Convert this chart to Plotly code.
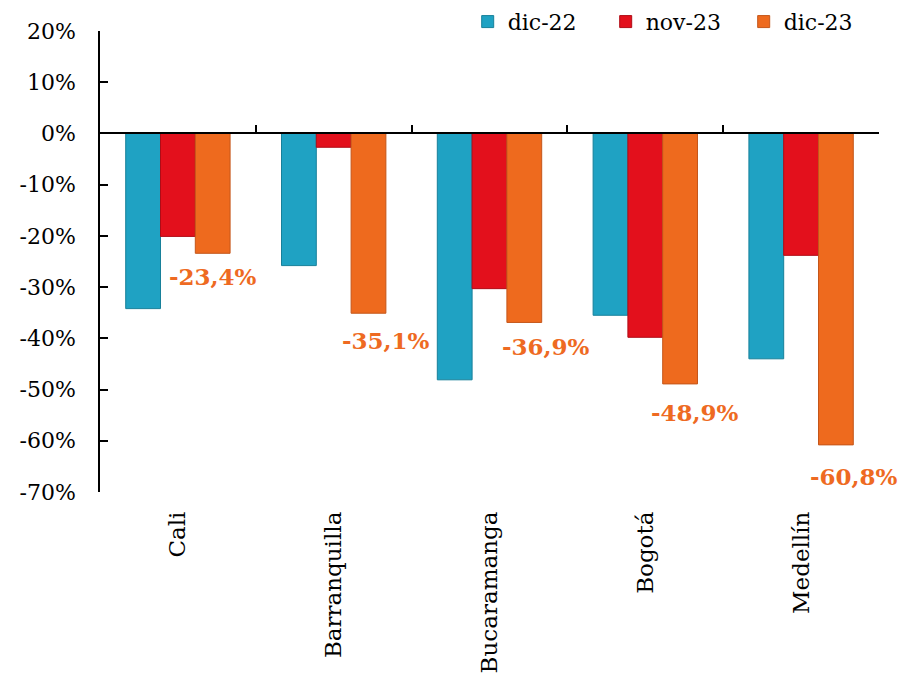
import plotly.graph_objects as go

cities = ["Cali", "Barranquilla", "Bucaramanga", "Bogotá", "Medellín"]
series_names = ["dic-22", "nov-23", "dic-23"]
dic22 = [-34.2, -25.8, -48.1, -35.5, -44.0]
nov23 = [-20.1, -2.7, -30.3, -39.8, -23.8]
dic23 = [-23.4, -35.1, -36.9, -48.9, -60.8]
dic23_labels = ["-23,4%", "-35,1%", "-36,9%", "-48,9%", "-60,8%"]
y_ticks = [20, 10, 0, -10, -20, -30, -40, -50, -60, -70]
y_tick_text = [f"{v}%" for v in y_ticks]

# label nudges (style only, pixels)
label_dx = [0, 18, 22, 15, 18]
label_dy = [-14, -18, -15, -19, -22]

colors = ["#1FA2C3", "#E3101C", "#EE6A1E"]
edge_colors = ["#17809A", "#B00C16", "#C4561A"]
label_color = "#EE6A22"
FONT = "DejaVu Serif"
PLOT_W = 779
BAR_PX = PLOT_W / 5 * 0.67 / 3

fig = go.Figure()
for name, vals, col, ecol in zip(series_names, [dic22, nov23, dic23], colors, edge_colors):
    fig.add_trace(go.Bar(x=cities, y=vals, name=name,
                         marker=dict(color=col, line=dict(width=1, color=ecol)),
                         xaxis="x", yaxis="y"))

# invisible trace for zero-line axis
fig.add_trace(go.Scatter(x=cities, y=[0]*len(cities), xaxis="x2", yaxis="y",
                         mode="markers", marker=dict(opacity=0), showlegend=False, hoverinfo="skip"))

for c, v, t, dx, dy in zip(cities, dic23, dic23_labels, label_dx, label_dy):
    fig.add_annotation(x=c, y=v, xref="x", yref="y", text=t, showarrow=False,
                       xanchor="center", yanchor="top", xshift=BAR_PX + dx, yshift=dy + 6,
                       font=dict(family=FONT, size=23, color=label_color, weight="bold"))

fig.update_layout(
    width=900, height=666,
    margin=dict(l=92, r=29, t=23, b=182, autoexpand=False),
    paper_bgcolor="white", plot_bgcolor="white",
    barmode="group", bargap=0.33, bargroupgap=0,
    font=dict(family=FONT, size=22, color="black"),
    showlegend=True,
    legend=dict(orientation="h", x=0.472, xanchor="left", y=1.02, yanchor="middle",
                font=dict(family=FONT, size=22), itemwidth=30, entrywidth=93,
                bgcolor="rgba(0,0,0,0)"),
    xaxis=dict(type="category", categoryorder="array", categoryarray=cities,
               range=[-0.5, len(cities) - 0.5], autorange=False,
               showline=False, ticks="", tickangle=-90, ticklabelstandoff=14,
               tickfont=dict(family=FONT, size=23), showgrid=False, zeroline=False,
               automargin=False),
    xaxis2=dict(type="category", categoryorder="array", categoryarray=cities,
                overlaying="x", matches="x", anchor="free", position=70/90,
                showline=True, linecolor="black", linewidth=1.5,
                ticks="inside", tickson="boundaries", ticklen=8, tickcolor="black", tickwidth=1.5,
                showticklabels=False, showgrid=False, zeroline=False),
    yaxis=dict(range=[-70, 20], autorange=False, tickvals=y_ticks, ticktext=y_tick_text,
               showline=True, linecolor="black", linewidth=1.5,
               ticks="inside", ticklen=8, tickcolor="black", tickwidth=1.5,
               ticklabelstandoff=18, automargin=False,
               showgrid=False, zeroline=False, tickfont=dict(family=FONT, size=22)),
)

fig.write_html("out.html")
